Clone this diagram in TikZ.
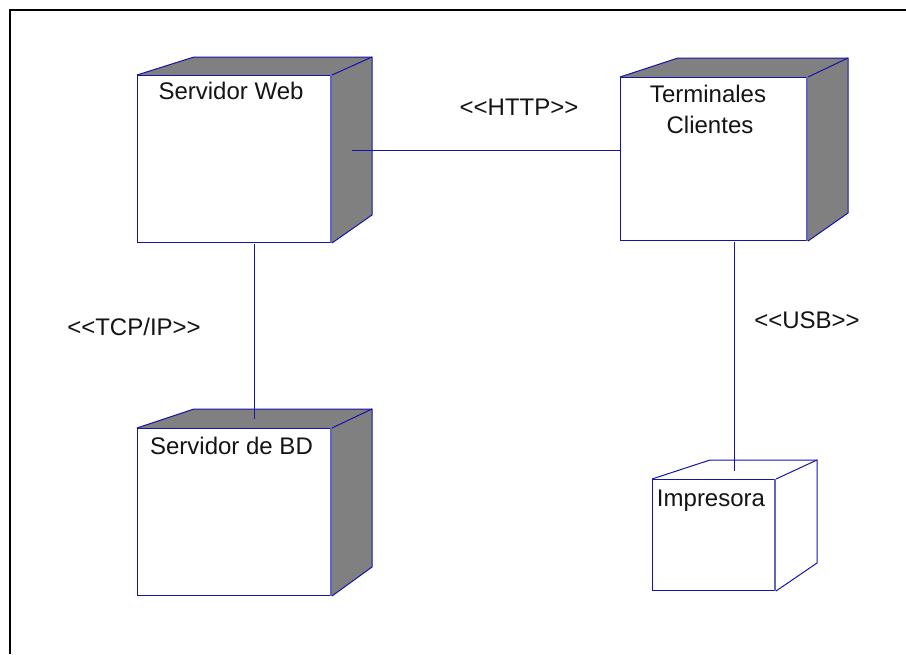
\documentclass[tikz,border=0pt]{standalone}
\usepackage{fontspec}
\setmainfont{Liberation Sans}
\definecolor{umlblue}{RGB}{20,20,170}
\definecolor{umledge}{RGB}{100,100,190}
\definecolor{umlgray}{RGB}{128,128,128}
\tikzset{
  px/.style={x=0.75pt,y=-0.75pt},
  frameline/.style={draw=black,line width=1.9pt},
  wire/.style={draw=umlblue,line width=0.75pt},
  cubeline/.style={draw=umlblue,line width=0.75pt,line join=miter},
  softedge/.style={draw=umledge,line width=1.5pt},
  cubebox/.style={draw=none,fill=none,inner sep=0pt,outer sep=0pt,rectangle},
  lbl/.style={font=\fontsize{18pt}{21pt}\selectfont,text=black!92,anchor=base,inner sep=0pt},
}
% #1 name, #2 left, #3 top (front), #4 front right, #5 front bottom, #6 back left, #7 back top, #8 back right, #9 back bottom
\newcommand{\umlcube}[9]{%
  \node[cubebox,minimum width=(#8-#2)*0.75pt,minimum height=(#5-#7+1)*0.75pt,anchor=north west] (#1) at (#2,#7) {};
  \fill[fill=\cubeshade] (#2,#3) -- (#6,#7) -- (#8,#7) -- (#8,#9) -- (#4+1,#5+1) -- (#4,#3) -- cycle;
  \draw[cubeline] (#2,#3) -- (#6,#7) -- (#8,#7) -- (#8,#9) -- (#4+1,#5+1);
  \draw[cubeline] (#4+1,#3) -- (#8,#7);
  \draw[cubeline,fill=white] (#2,#3) rectangle (#4,#5);
  \draw[softedge] (#4,#3) -- (#4,#5+1);
}
\begin{document}
\begin{tikzpicture}[px]
\useasboundingbox (0,0) rectangle (906,654);
\fill[white] (0,0) rectangle (906,654);
\draw[frameline] (906,10) -- (10,10) -- (10,654);

\def\cubeshade{umlgray}
\umlcube{sw}{137}{75}{331}{242}{194}{57}{372}{215}
\umlcube{tc}{620}{77}{807}{240}{678}{58}{848}{213}
\umlcube{db}{137}{428}{331}{595}{194}{409}{372}{567}
\def\cubeshade{white}
\umlcube{pr}{652}{479}{775}{590}{710}{460}{817}{563}

\coordinate (swport) at ([xshift=-15pt]sw.east);
\draw[wire] (swport) -- (swport -| tc.west);
\draw[wire] ([yshift=-1pt]sw.south) -- ([yshift=-7.5pt]db.north);
\coordinate (prport) at ([yshift=-7pt]pr.north);
\draw[wire] ([yshift=-1pt]tc.south) -- ([yshift=-1pt]tc.south |- prport);

\node[lbl] (swt) at (231,99.5) {Servidor Web};
\node[lbl] (tct1) at (708,102) {Terminales};
\node[lbl] (tct2) at (710,133) {Clientes};
\node[lbl] (dbt) at (231.5,454) {Servidor de BD};
\node[lbl] (prt) at (711,506) {Impresora};
\node[lbl] (http) at (519,115) {<{}<HTTP>{}>};
\node[lbl] (tcp) at (134,335) {<{}<TCP/IP>{}>};
\node[lbl] (usb) at (807,328) {<{}<USB>{}>};
\end{tikzpicture}
\end{document}
